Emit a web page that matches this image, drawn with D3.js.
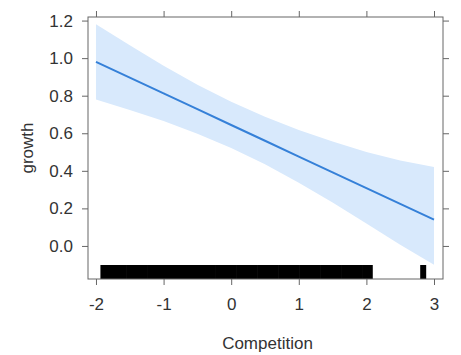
<!DOCTYPE html>
<html>
<head>
<meta charset="utf-8">
<script src="https://cdn.jsdelivr.net/npm/d3@7"></script>
<style>
  html, body { margin: 0; padding: 0; background: #fff; }
  svg { display: block; }
  text { font-family: "Liberation Sans", Arial, sans-serif; fill: #333; }
</style>
</head>
<body>
<svg id="chart" width="461" height="355"></svg>
<script>
// ---- data ----
const fitX     = [-2, -1.5, -1, -0.5, 0, 0.5, 1, 1.5, 2, 2.5, 3];
const fitY     = [0.98, 0.896, 0.812, 0.728, 0.644, 0.56, 0.476, 0.392, 0.308, 0.224, 0.14];
const upperY   = [1.18, 1.068, 0.96, 0.858, 0.768, 0.688, 0.618, 0.556, 0.50, 0.455, 0.42];
const lowerY   = [0.78, 0.724, 0.665, 0.598, 0.522, 0.435, 0.337, 0.231, 0.12, 0.006, -0.10];
const rugX     = [-1.89, -1.82, -1.74, -1.66, -1.59, -1.51, -1.43, -1.35, -1.28, -1.20, -1.12,
                  -1.04, -0.97, -0.89, -0.81, -0.73, -0.66, -0.58, -0.50, -0.42, -0.35, -0.27,
                  -0.19, -0.11, -0.04, 0.04, 0.12, 0.20, 0.27, 0.35, 0.43, 0.51, 0.58, 0.66,
                  0.74, 0.82, 0.89, 0.97, 1.05, 1.13, 1.20, 1.28, 1.36, 1.44, 1.51, 1.59,
                  1.67, 1.75, 1.82, 1.90, 1.98, 2.05, 2.84];
const xTicks   = [-2, -1, 0, 1, 2, 3];
const xLabels  = ["-2", "-1", "0", "1", "2", "3"];
const yTicks   = [0.0, 0.2, 0.4, 0.6, 0.8, 1.0, 1.2];
const yLabels  = ["0.0", "0.2", "0.4", "0.6", "0.8", "1.0", "1.2"];
const xTitle   = "Competition";
const yTitle   = "growth";

// ---- layout ----
const svg = d3.select("#chart");
const L = 88, R = 443, T = 17, B = 279;
const x = d3.scaleLinear().domain([-2.118, 3.133]).range([L, R]);
const y = d3.scaleLinear().domain([-0.176, 1.219]).range([B, T]);

const bandData = fitX.map((v, i) => ({x: v, lo: lowerY[i], hi: upperY[i], f: fitY[i]}));

// band
svg.append("path")
  .datum(bandData)
  .attr("fill", "#d8e9fc")
  .attr("stroke", "none")
  .attr("d", d3.area().x(d => x(d.x)).y0(d => y(d.lo)).y1(d => y(d.hi)));

// fit line
svg.append("path")
  .datum(bandData)
  .attr("fill", "none")
  .attr("stroke", "#3580d8")
  .attr("stroke-width", 2)
  .attr("d", d3.line().x(d => x(d.x)).y(d => y(d.f)));

// rug
svg.append("g").selectAll("line")
  .data(rugX).join("line")
  .attr("x1", d => x(d)).attr("x2", d => x(d))
  .attr("y1", 265).attr("y2", B)
  .attr("stroke", "#000")
  .attr("stroke-width", 6);

// axes
const tickColor = "#666";
function styleAxis(g) {
  g.select(".domain").remove();
  g.selectAll(".tick line").attr("stroke", tickColor);
  g.selectAll(".tick text").style("font-size", "17px").attr("fill", "#2a2a2a");
}
svg.append("g").attr("transform", `translate(0,${B})`)
  .call(d3.axisBottom(x).tickValues(xTicks).tickSize(6).tickPadding(13)
        .tickFormat((d, i) => xLabels[i]))
  .call(styleAxis);
svg.append("g").attr("transform", `translate(0,${T})`)
  .call(d3.axisTop(x).tickValues(xTicks).tickSize(6).tickFormat(""))
  .call(styleAxis);
svg.append("g").attr("transform", `translate(${L},0)`)
  .call(d3.axisLeft(y).tickValues(yTicks).tickSize(6).tickPadding(9)
        .tickFormat((d, i) => yLabels[i]))
  .call(styleAxis);
svg.append("g").attr("transform", `translate(${R},0)`)
  .call(d3.axisRight(y).tickValues(yTicks).tickSize(6).tickFormat(""))
  .call(styleAxis);

// panel box
svg.append("rect")
  .attr("x", L).attr("y", T).attr("width", R - L).attr("height", B - T)
  .attr("fill", "none").attr("stroke", tickColor).attr("stroke-width", 1);

// titles
svg.append("text")
  .attr("x", (L + R) / 2 + 2).attr("y", 349)
  .attr("text-anchor", "middle")
  .style("font-size", "17px")
  .text(xTitle);
svg.append("text")
  .attr("transform", `translate(33,${(T + B) / 2}) rotate(-90)`)
  .attr("text-anchor", "middle")
  .style("font-size", "17px")
  .text(yTitle);
</script>
</body>
</html>
